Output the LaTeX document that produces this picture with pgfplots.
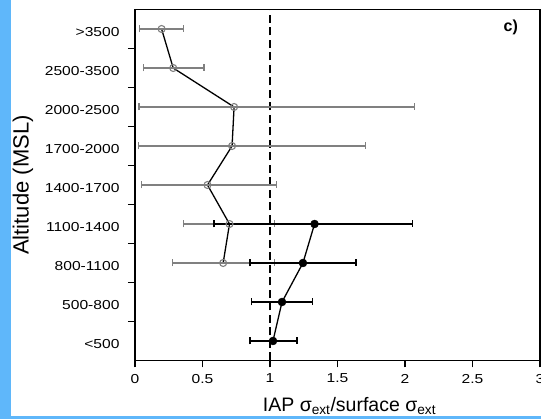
\documentclass[border=0pt]{standalone}
\usepackage{pgfplots}
\usepackage{pgfplotstable}
\pgfplotsset{compat=1.18}
\usepackage{fontspec}
\setmainfont{Liberation Sans}
\newfontfamily\tickfont{Liberation Sans}[FakeStretch=1.2]
\definecolor{bgblue}{RGB}{95,183,250}

\pgfplotstableread{
x y ep em
1.022 0.5 0.178 0.172
1.089 1.5 0.224 0.227
1.244 2.5 0.394 0.394
1.330 3.5 0.727 0.744
}\filleddata

\pgfplotstableread{
x y ep em
0.653 2.5 0.382 0.377
0.700 3.5 0.335 0.343
0.537 4.5 0.510 0.490
0.719 5.5 0.987 0.694
0.734 6.5 1.336 0.704
0.283 7.5 0.229 0.222
0.197 8.5 0.160 0.165
}\opendata

\begin{document}
\begin{tikzpicture}
\path[use as bounding box] (0,0) rectangle (541pt,419pt);
\begin{axis}[
  scale only axis, width=405pt, height=351pt,
  at={(135pt,58.5pt)}, anchor=south west,
  xmin=0, xmax=3, ymin=0, ymax=9,
  xtick pos=bottom, ytick pos=left,
  xtick={0,0.5,1,1.5,2,2.5,3},
  xticklabels={0,0.5,1,1.5,2,2.5,3},
  ytick={1,2,3,4,5,6,7,8},
  yticklabels={},
  extra y ticks={0.5,1.5,2.5,3.5,4.5,5.5,6.5,7.5,8.5},
  extra y tick labels={{<500},{500-800},{800-1100},{1100-1400},{1400-1700},{1700-2000},{2000-2500},{2500-3500},{>3500}},
  extra y tick style={major tick length=0pt, yticklabel style={xshift=-12pt, yshift=-3pt}},
  xticklabel style={yshift=-3pt},
  tick align=outside, major tick length=7pt,
  axis line style={line width=1.2pt},
  tick style={line width=1.2pt, black},
  ticklabel style={font=\tickfont\fontsize{13}{13}\selectfont},
  xlabel={IAP σ\textsubscript{ext}/surface σ\textsubscript{ext}},
  xlabel style={font=\fontsize{19.5}{19.5}\selectfont, xshift=12pt, yshift=-7pt},
  ylabel={Altitude (MSL)},
  ylabel style={font=\fontsize{22}{22}\selectfont, at={(axis description cs:-0.2765,0.5)}, anchor=center, rotate=0},
]
\addplot[black, line width=1.8pt, dash pattern=on 8pt off 4.5pt] coordinates {(1,0) (1,9)};

\addplot[black, line width=1.3pt, mark=none] table[x=x, y=y]{\opendata};
\addplot[only marks, mark=o, mark size=3.5pt,
  mark options={draw=black!50, fill=white, line width=1.1pt},
  error bars/.cd, x dir=both, x explicit,
  error bar style={draw=black!50, line width=1.3pt},
  error mark options={draw=black!50, mark size=3.5pt, line width=1.3pt, rotate=90}]
  table[x=x, y=y, x error plus=ep, x error minus=em]{\opendata};

\addplot[black, line width=1.3pt, mark=none] table[x=x, y=y]{\filleddata};
\addplot[only marks, mark=*, mark size=4pt,
  mark options={draw=black, fill=black},
  error bars/.cd, x dir=both, x explicit,
  error bar style={draw=black, line width=1.5pt},
  error mark options={draw=black, mark size=3.5pt, line width=1.5pt, rotate=90}]
  table[x=x, y=y, x error plus=ep, x error minus=em]{\filleddata};

\node[font=\bfseries\fontsize{16}{16}\selectfont] at (rel axis cs:0.928,0.95) {c)};
\end{axis}
\fill[bgblue] (0,0) rectangle (11pt,419pt);
\fill[bgblue] (0,0) rectangle (541pt,3pt);
\end{tikzpicture}
\end{document}
